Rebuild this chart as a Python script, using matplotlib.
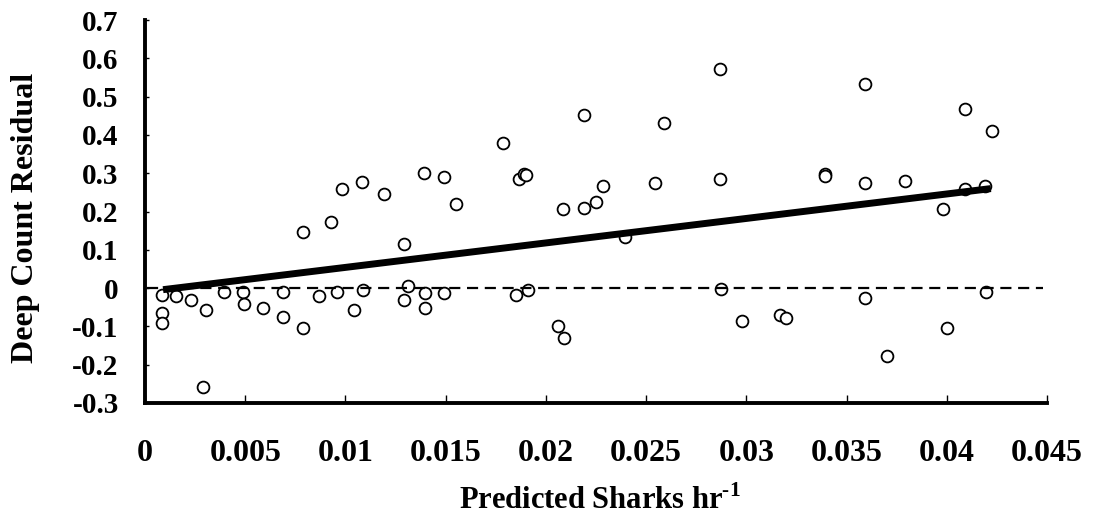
import matplotlib
matplotlib.use("Agg")
import matplotlib.pyplot as plt

plt.rcParams['font.family'] = ['Liberation Serif', 'DejaVu Serif']
plt.rcParams['font.weight'] = 'bold'
plt.rcParams['mathtext.fontset'] = 'custom'
plt.rcParams['mathtext.rm'] = 'Liberation Serif:bold'
plt.rcParams['mathtext.bf'] = 'Liberation Serif:bold'

# residuals of deep counts against predicted shark rate
pred_rate = [0.00083, 0.00083, 0.00083, 0.00153, 0.00228, 0.00304, 0.00288, 0.00394,
             0.0049, 0.00494, 0.0059, 0.0069, 0.0069, 0.00786, 0.0079, 0.0087,
             0.0093, 0.00985, 0.0096, 0.01045, 0.01085, 0.01088, 0.0119, 0.0129,
             0.0129, 0.01314, 0.0139, 0.01396, 0.01396, 0.0149, 0.0149, 0.0155,
             0.01786, 0.0185, 0.01868, 0.01893, 0.0190, 0.0191, 0.02059, 0.0209,
             0.02087, 0.02188, 0.02192, 0.02252, 0.02287, 0.02396, 0.02544, 0.02587,
             0.02871, 0.0287, 0.02875, 0.02978, 0.03166, 0.03199, 0.03395, 0.03395,
             0.0359, 0.0359, 0.0359, 0.0370, 0.0379, 0.0398, 0.0400, 0.0409,
             0.0409, 0.04224, 0.0419, 0.04195]
residual = [-0.017, -0.066, -0.092, -0.021, -0.030, -0.057, -0.259, -0.011,
            -0.010, -0.042, -0.053, -0.010, -0.076, 0.147, -0.104, -0.021,
            0.173, 0.258, -0.011, -0.057, 0.277, -0.005, 0.246, 0.115,
            -0.030, 0.005, 0.301, -0.014, -0.053, 0.289, -0.012, 0.219,
            0.379, -0.017, 0.284, 0.299, 0.295, -0.005, -0.099, -0.131,
            0.207, 0.452, 0.208, 0.225, 0.268, 0.134, 0.274, 0.432,
            0.573, 0.284, -0.003, -0.086, -0.070, -0.079, 0.298, 0.293,
            0.533, 0.274, -0.025, -0.176, 0.279, 0.207, -0.105, 0.467,
            0.260, 0.411, 0.268, -0.011]

# fitted trend line
fit_x = [0.0009, 0.0422]
fit_y = [-0.004, 0.260]

xticks = [0, 0.005, 0.01, 0.015, 0.02, 0.025, 0.03, 0.035, 0.04, 0.045]
xtick_labels = ['0', '0.005', '0.01', '0.015', '0.02', '0.025', '0.03', '0.035', '0.04', '0.045']
yticks = [-0.3, -0.2, -0.1, 0, 0.1, 0.2, 0.3, 0.4, 0.5, 0.6, 0.7]
ytick_labels = ['-0.3', '-0.2', '-0.1', '0', '0.1', '0.2', '0.3', '0.4', '0.5', '0.6', '0.7']

fig = plt.figure(figsize=(10.97, 5.16), dpi=100)
ax = fig.add_axes([0.1322, 0.219, 0.8222, 0.742])

ax.plot(pred_rate, residual, 'o', ms=8.5, mfc='white', mec='black', mew=1.3, zorder=2)
ax.hlines(0, 0.0001, 0.0448, colors='black', linewidth=1.6, linestyles=(0, (5, 3)), zorder=3)
ax.plot(fit_x, fit_y, color='black', linewidth=5, solid_capstyle='butt', zorder=4)

ax.set_xlim(0, 0.045)
ax.set_ylim(-0.3, 0.7)
ax.set_xticks(xticks)
ax.set_xticklabels(xtick_labels)
ax.set_yticks(yticks)
ax.set_yticklabels(ytick_labels)

for side in ['top', 'right']:
    ax.spines[side].set_visible(False)
for side in ['left', 'bottom']:
    ax.spines[side].set_linewidth(2.8)

ax.tick_params(axis='x', direction='in', length=6, width=1, pad=26, labelsize=23)
ax.tick_params(axis='y', direction='in', length=3, width=1, pad=19, labelsize=21)

ax.set_xlabel(r'Predicted Sharks hr$^{\text{-1}}$', fontsize=22, fontweight='bold')
ax.set_ylabel('Deep Count Residual', fontsize=23, fontweight='bold')
ax.xaxis.set_label_coords(0.504, -0.215)
ax.yaxis.set_label_coords(-0.116, 0.483)

fig.savefig('out.png', dpi=100)
